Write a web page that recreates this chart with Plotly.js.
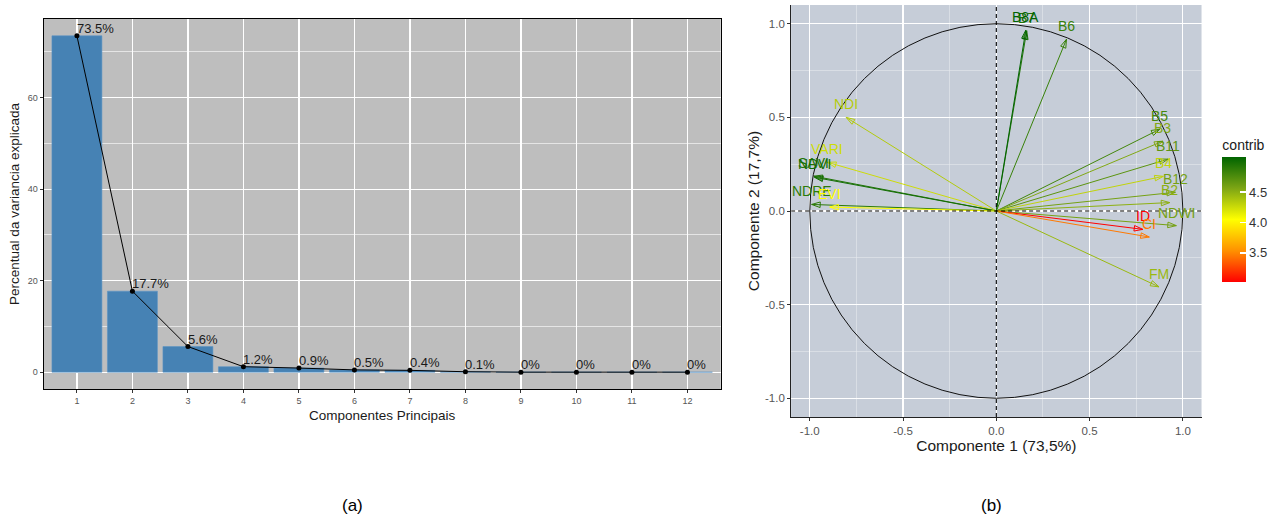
<!DOCTYPE html>
<html>
<head>
<meta charset="utf-8">
<script src="https://cdn.plot.ly/plotly-3.0.1.min.js"></script>
<style>html,body{margin:0;padding:0;background:#fff;}</style>
</head>
<body>
<div id="chart" style="width:1274px;height:518px;"></div>
<script>
// ---------- Data: panel (a) scree plot ----------
const components = [1,2,3,4,5,6,7,8,9,10,11,12];
const variancePct = [73.5,17.7,5.6,1.2,0.9,0.5,0.4,0.1,0,0,0,0];
const varianceLabels = ['73.5%','17.7%','5.6%','1.2%','0.9%','0.5%','0.4%','0.1%','0%','0%','0%','0%'];

// ---------- Data: panel (b) correlation circle ----------
const varNames = ['B7','B8A','B6','B5','B3','B11','B4','B12','B2','NDWI','ID','CI','FM','NDI','VARI','SAVI','NDVI','NDRE','EVI'];
const comp1    = [0.163,0.158,0.376,0.877,0.893,0.920,0.895,0.960,0.930,0.965,0.785,0.820,0.872,-0.805,-0.905,-0.978,-0.975,-0.990,-0.893];
const comp2    = [0.962,0.965,0.917,0.437,0.373,0.277,0.185,0.100,0.045,-0.078,-0.098,-0.139,-0.405,0.500,0.260,0.186,0.180,0.035,0.021];
const contrib  = [4.95,5.08,4.85,4.80,4.55,4.70,4.30,4.60,4.50,4.60,3.02,3.45,4.45,4.35,4.25,4.95,5.00,4.90,4.05];

const circTickVals = [-1,-0.5,0,0.5,1];
const circTickText = ['-1.0','-0.5','0.0','0.5','1.0'];
const contribTickVals = [3.5,4.0,4.5];
const contribTickText = ['3.5','4.0','4.5'];

// ---------- Styling ----------
const W = 1274, H = 518;
const FONT = 'Liberation Sans, Arial, Helvetica, sans-serif';
const colorStops = [[0,[255,0,0]],[0.25,[255,145,0]],[0.5,[255,255,0]],[0.75,[125,165,20]],[1,[0,100,0]]];
const colorscale = colorStops.map(s => [s[0], 'rgb(' + s[1].join(',') + ')']);
const cMin = Math.min(...contrib), cMax = Math.max(...contrib);
function colorFor(v){
  const t = Math.max(0, Math.min(1, (v - cMin) / (cMax - cMin)));
  for (let i = 1; i < colorStops.length; i++){
    if (t <= colorStops[i][0]){
      const a = colorStops[i-1], b = colorStops[i];
      const f = (t - a[0]) / (b[0] - a[0]);
      const c = a[1].map((ca, k) => Math.round(ca + (b[1][k] - ca) * f));
      return 'rgb(' + c.join(',') + ')';
    }
  }
  return 'rgb(' + colorStops[colorStops.length-1][1].join(',') + ')';
}

// pixel-based domains
const px = v => v / W, py = v => (H - v) / H;
const dom = {
  ax: [px(44), px(727)], ay: [py(389), py(19)],
  bx: [px(798), px(1212)], by: [py(417), py(5)]
};

const traces = [];
// (a) bars
traces.push({
  type: 'bar', x: components, y: variancePct, width: 0.9,
  marker: {color: '#4682B4', line: {color: '#5b93c4', width: 0.6}},
  xaxis: 'x', yaxis: 'y', hoverinfo: 'x+y', showlegend: false
});
// (a) line with points
traces.push({
  type: 'scatter', mode: 'lines+markers', x: components, y: variancePct,
  line: {color: '#000', width: 1}, marker: {color: '#000', size: 5},
  xaxis: 'x', yaxis: 'y', showlegend: false, cliponaxis: false
});
// (b) arrow shafts
varNames.forEach((n, i) => {
  traces.push({
    type: 'scatter', mode: 'lines', x: [0, comp1[i]], y: [0, comp2[i]],
    line: {color: colorFor(contrib[i]), width: 1},
    xaxis: 'x2', yaxis: 'y2', showlegend: false, hoverinfo: 'skip'
  });
});
// (b) arrow heads + colour bar
traces.push({
  type: 'scatter', mode: 'markers', x: comp1, y: comp2, text: varNames,
  marker: {
    color: contrib, colorscale: colorscale, cmin: cMin, cmax: cMax,
    symbol: 'arrow-open', size: 9,
    angle: comp1.map((x, i) => Math.atan2(x, comp2[i]) * 180 / Math.PI),
    line: {width: 1},
    showscale: true,
    colorbar: {
      title: {text: 'contrib', side: 'top', font: {family: FONT, size: 14, color: '#1a1a1a'}},
      x: px(1233), xanchor: 'left', xpad: 0,
      y: py(136), yanchor: 'top', ypad: 0,
      lenmode: 'pixels', len: 146, thickness: 24,
      outlinewidth: 0,
      tickmode: 'array', tickvals: contribTickVals, ticktext: contribTickText,
      ticks: 'inside', ticklen: 6, tickwidth: 1.5, tickcolor: '#ffffff',
      tickfont: {family: FONT, size: 13, color: '#333'}
    }
  },
  xaxis: 'x2', yaxis: 'y2', showlegend: false, hoverinfo: 'text'
});

const annotations = [];
// (a) percentage labels
components.forEach((c, i) => {
  annotations.push({
    x: c, y: variancePct[i], xref: 'x', yref: 'y', text: varianceLabels[i], showarrow: false,
    xanchor: 'left', yanchor: 'bottom', xshift: -2, yshift: -2,
    font: {family: FONT, size: 13, color: '#1a1a1a'}
  });
});
// (b) variable labels
varNames.forEach((n, i) => {
  annotations.push({
    x: comp1[i], y: comp2[i], xref: 'x2', yref: 'y2', text: n, showarrow: false,
    yshift: 13, font: {family: FONT, size: 14, color: colorFor(contrib[i])}
  });
});
annotations.push({x: px(356), y: py(505), xref: 'paper', yref: 'paper', text: '(a)', showarrow: false,
  xanchor: 'center', yanchor: 'middle', font: {family: FONT, size: 17, color: '#000'}});
annotations.push({x: px(1000), y: py(505), xref: 'paper', yref: 'paper', text: '(b)', showarrow: false,
  xanchor: 'center', yanchor: 'middle', font: {family: FONT, size: 17, color: '#000'}});

const shapes = [
  {type: 'rect', xref: 'x domain', yref: 'y domain', x0: 0, x1: 1, y0: 0, y1: 1, fillcolor: '#BEBEBE', line: {width: 0}, layer: 'below'},
  {type: 'rect', xref: 'x2 domain', yref: 'y2 domain', x0: 0, x1: 1, y0: 0, y1: 1, fillcolor: '#C6CDD8', line: {width: 0}, layer: 'below'},
  {type: 'circle', xref: 'x2', yref: 'y2', x0: -1, y0: -1, x1: 1, y1: 1, line: {color: '#111', width: 1}, layer: 'above'},
  {type: 'line', xref: 'x2', yref: 'y2', x0: 0, x1: 0, y0: -1.1, y1: 1.1, line: {color: '#000', width: 1.1, dash: '4px,3px'}, layer: 'above'},
  {type: 'line', xref: 'x2', yref: 'y2', x0: -1.1, x1: 1.1, y0: 0, y1: 0, line: {color: '#000', width: 1.1, dash: '4px,3px'}, layer: 'above'}
];

const tickFontA = {family: FONT, size: 9, color: '#555'};
const tickFontB = {family: FONT, size: 11.5, color: '#555'};
const layout = {
  width: W, height: H, autosize: false,
  margin: {l: 0, r: 0, t: 0, b: 0, pad: 0},
  paper_bgcolor: '#ffffff', plot_bgcolor: 'rgba(0,0,0,0)',
  font: {family: FONT},
  showlegend: false, bargap: 0.1,
  xaxis: {
    domain: dom.ax, anchor: 'y', range: [0.4, 12.6],
    tickmode: 'array', tickvals: components, ticktext: components.map(String),
    showgrid: true, gridcolor: '#ffffff', gridwidth: 1.2, zeroline: false,
    showline: true, mirror: true, linecolor: '#000', linewidth: 1,
    ticks: 'outside', ticklen: 3, tickcolor: '#333', tickfont: tickFontA,
    title: {text: 'Componentes Principais', font: {family: FONT, size: 13.5, color: '#1a1a1a'}, standoff: 5}
  },
  yaxis: {
    domain: dom.ay, anchor: 'x', range: [-3.675, 77.175],
    tickmode: 'linear', tick0: 0, dtick: 20,
    showgrid: true, gridcolor: '#ffffff', gridwidth: 1.2, zeroline: false,
    minor: {dtick: 10, tick0: 0, showgrid: true, gridcolor: '#ffffff', gridwidth: 0.6, ticks: ''},
    showline: true, mirror: true, linecolor: '#000', linewidth: 1,
    ticks: 'outside', ticklen: 3, tickcolor: '#333', tickfont: tickFontA,
    title: {text: 'Percentual da variancia explicada', font: {family: FONT, size: 13.5, color: '#1a1a1a'}, standoff: 5}
  },
  xaxis2: {
    domain: dom.bx, anchor: 'y2', range: [-1.1, 1.1],
    tickmode: 'array', tickvals: circTickVals, ticktext: circTickText,
    showgrid: true, gridcolor: '#ffffff', gridwidth: 1.2, zeroline: false,
    minor: {dtick: 0.25, tick0: 0, showgrid: true, gridcolor: '#e6e9ee', gridwidth: 0.6, ticks: ''},
    showline: true, mirror: false, linecolor: '#222', linewidth: 1,
    ticks: 'outside', ticklen: 3, tickcolor: '#333', tickfont: tickFontB,
    title: {text: 'Componente 1 (73,5%)', font: {family: FONT, size: 15.5, color: '#1a1a1a'}, standoff: 2}
  },
  yaxis2: {
    domain: dom.by, anchor: 'x2', range: [-1.1, 1.1],
    tickmode: 'array', tickvals: circTickVals, ticktext: circTickText,
    showgrid: true, gridcolor: '#ffffff', gridwidth: 1.2, zeroline: false,
    minor: {dtick: 0.25, tick0: 0, showgrid: true, gridcolor: '#e6e9ee', gridwidth: 0.6, ticks: ''},
    showline: true, mirror: false, linecolor: '#222', linewidth: 1,
    ticks: 'outside', ticklen: 3, tickcolor: '#333', tickfont: tickFontB,
    title: {text: 'Componente 2 (17,7%)', font: {family: FONT, size: 15.5, color: '#1a1a1a'}, standoff: 1}
  },
  shapes: shapes,
  annotations: annotations
};

Plotly.newPlot('chart', traces, layout, {displayModeBar: false, staticPlot: true});
</script>
</body>
</html>
